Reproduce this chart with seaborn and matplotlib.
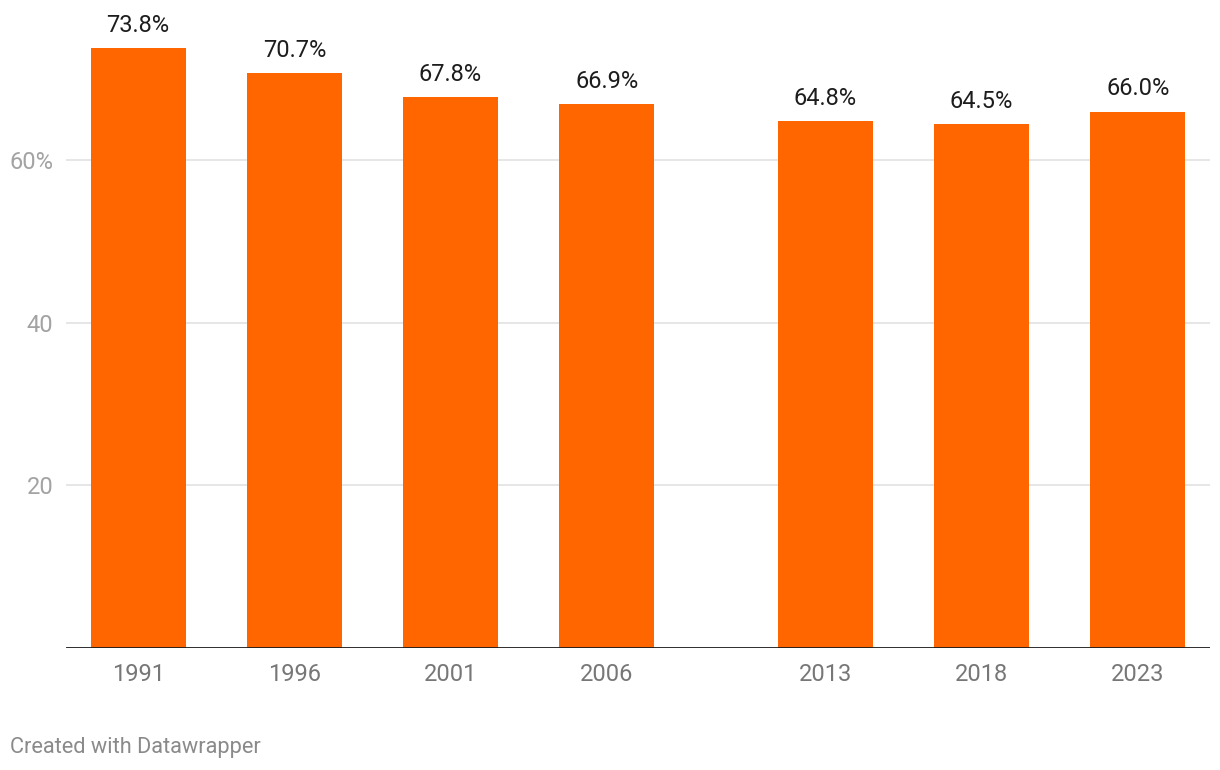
import pandas as pd
import seaborn as sns
import matplotlib.pyplot as plt

years = [1991, 1996, 2001, 2006, 2013, 2018, 2023]
values = [73.8, 70.7, 67.8, 66.9, 64.8, 64.5, 66.0]
y_ticks = [20, 40, 60]
y_tick_labels = ["20", "40", "60%"]


def main():
    df = pd.DataFrame({"year": years, "value": values})

    sns.set_style("white")
    plt.rcParams["font.family"] = ["Roboto", "DejaVu Sans"]

    fig = plt.figure(figsize=(12.2, 7.7), dpi=100)
    ax = fig.add_axes([66 / 1220, 122.5 / 770, 1144 / 1220, 648 / 770])

    sns.barplot(data=df, x="year", y="value", native_scale=True, width=0.61,
                color="#ff6600", saturation=1, ax=ax, zorder=2, linewidth=0)

    ax.set_xlim(1988.69, 2025.31)
    ax.set_ylim(0, 79.8)

    # grid + axis lines
    ax.set_yticks(y_ticks)
    ax.set_yticklabels(y_tick_labels)
    for t in y_ticks:
        ax.axhline(t, color="#e2e2e2", lw=1.2, zorder=1)
    ax.axhline(0, color="#1a1a1a", lw=2, zorder=3)
    for s in ax.spines.values():
        s.set_visible(False)

    ax.set_xticks(years)
    ax.set_xticklabels([str(y) for y in years])
    ax.tick_params(axis="x", length=0, pad=11, labelsize=17, labelcolor="#777777")
    ax.tick_params(axis="y", length=0, pad=9, labelsize=17, labelcolor="#a3a3a3")
    ax.set_xlabel("")
    ax.set_ylabel("")

    ax.bar_label(ax.containers[0], labels=[f"{v:.1f}%" for v in values],
                 padding=8, fontsize=17, color="#1d1d1d")

    fig.text(10 / 1220, 1 - 748 / 770, "Created with Datawrapper", fontsize=15.7,
             color="#8a8a8a", va="center", ha="left")

    plt.savefig("out.png", dpi=100)


if __name__ == "__main__":
    main()
